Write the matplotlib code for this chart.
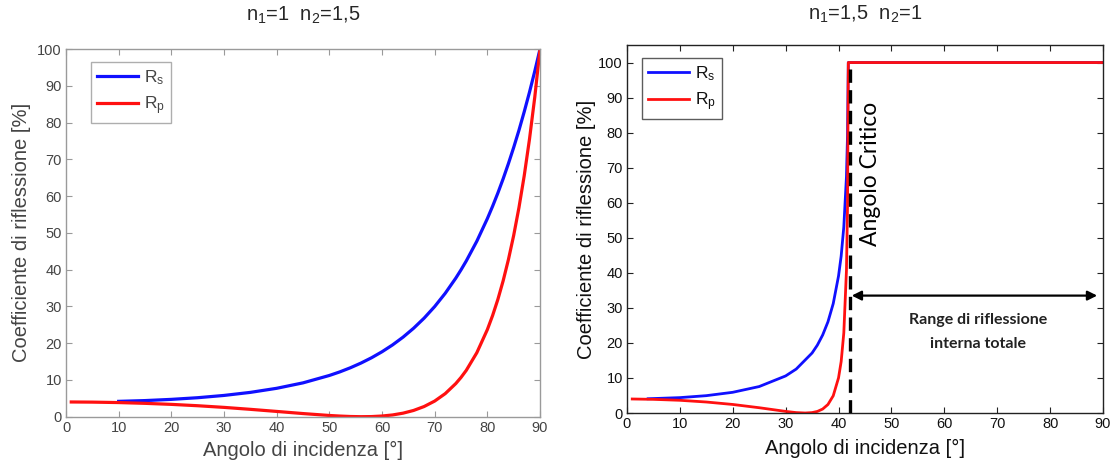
import matplotlib.pyplot as plt

plt.rcParams['font.family'] = ['Liberation Sans', 'DejaVu Sans']
plt.rcParams['mathtext.fontset'] = 'custom'
plt.rcParams['mathtext.rm'] = 'Liberation Sans'
plt.rcParams['mathtext.it'] = 'Liberation Sans:italic'

# n1=1 -> n2=1.5 (reflection in %)
ang_left = [1, 5, 10, 15, 20, 25, 30, 35, 40, 45, 50, 52, 54, 56, 58, 60, 62, 64, 66, 68,
            70, 72, 74, 75, 76, 78, 80, 81, 82, 83, 84, 85, 86, 87, 88, 89, 90]
rp_left = [4.00, 3.96, 3.84, 3.63, 3.35, 2.98, 2.53, 2.00, 1.43, 0.85, 0.33, 0.17, 0.05, 0.00,
           0.03, 0.18, 0.47, 0.96, 1.70, 2.77, 4.25, 6.27, 9.00, 10.68, 12.61, 17.40, 23.69,
           27.53, 31.92, 36.97, 42.74, 49.32, 56.87, 65.54, 75.49, 86.88, 100]
ang_s_left = [10, 15, 20, 25, 30, 35, 40, 45, 50, 52, 54, 56, 58, 60, 62, 64, 66, 68,
              70, 72, 74, 75, 76, 78, 80, 81, 82, 83, 84, 85, 86, 87, 88, 89, 90]
rs_left = [4.17, 4.38, 4.71, 5.16, 5.78, 6.61, 7.72, 9.20, 11.21, 12.19, 13.31, 14.58, 16.02,
           17.66, 19.52, 21.64, 24.06, 26.81, 29.96, 33.56, 37.67, 39.94, 42.37, 47.73, 53.87,
           57.25, 60.85, 64.71, 68.84, 73.23, 77.91, 82.94, 88.26, 93.95, 100]

# n1=1.5 -> n2=1
ang_s_right = [4, 10, 15, 20, 25, 30, 32, 35, 36, 37, 38, 39, 40, 40.5, 41, 41.5, 41.7, 41.8,
               41.85, 90]
rs_right = [4.07, 4.39, 4.95, 5.91, 7.55, 10.58, 12.54, 17.12, 19.37, 22.25, 26.01, 31.22,
            39.08, 44.78, 53.11, 67.42, 79.11, 93.2, 100, 100]
ang_p_right = [1, 5, 10, 15, 20, 25, 30, 32, 33.7, 35, 36, 37, 38, 39, 40, 40.5, 41, 41.5,
               41.7, 41.8, 41.85, 90]
rp_right = [4.00, 3.90, 3.63, 3.14, 2.44, 1.51, 0.46, 0.12, 0.00, 0.12, 0.45, 1.13, 2.43,
            4.92, 10.02, 14.69, 22.87, 40.69, 58.87, 85.4, 100, 100]

angolo_critico = 42.2
range_y = 33.5
range_end = 88.9

fig = plt.figure(figsize=(11.13, 4.65), dpi=100)
ax1 = fig.add_axes([0.0593, 0.1039, 0.4259, 0.7907])
ax2 = fig.add_axes([0.5633, 0.1118, 0.4277, 0.7914])


def style(ax, spine_col, text_col, ymax):
    ax.set_xlim(0, 90)
    ax.set_ylim(0, ymax)
    ax.set_xticks(range(0, 91, 10))
    ax.set_yticks(range(0, 101, 10))
    for s in ax.spines.values():
        s.set_color(spine_col)
        s.set_linewidth(1.0)
    ax.tick_params(direction='in', length=4, width=0.8, top=True, right=True,
                   color=spine_col, labelcolor=text_col, labelsize=10.5, pad=3)


style(ax1, '#9a9a9a', '#444444', 100)
style(ax2, '#222222', '#111111', 105)

ax1.plot(ang_s_left, rs_left, color='#1010ff', lw=2.3, label=r'R$_\mathrm{s}$')
ax1.plot(ang_left, rp_left, color='#ff1010', lw=2.3, label=r'R$_\mathrm{p}$')

ax2.plot(ang_s_right, rs_right, color='#1010ff', lw=2.0, label=r'R$_\mathrm{s}$')
ax2.plot(ang_p_right, rp_right, color='#ff1010', lw=2.0, label=r'R$_\mathrm{p}$')
ax2.plot([angolo_critico, angolo_critico], [0, 100], color='black', lw=2.4,
         linestyle=(0, (4, 2.2)), zorder=5)

ax2.text(46.0, 68.3, 'Angolo Critico', rotation=90, ha='center', va='center',
         fontsize=16.5, family=['Lato', 'DejaVu Sans'], color='black')
ax2.annotate('', xy=(range_end, range_y), xytext=(angolo_critico + 0.3, range_y),
             arrowprops=dict(arrowstyle='<|-|>', color='black', lw=1.6,
                             mutation_scale=14, shrinkA=0, shrinkB=0))
ax2.text(66.4, 26.6, 'Range di riflessione', ha='center', va='center', fontsize=11.5,
         fontweight='bold', family=['Lato', 'DejaVu Sans'], color='#222222')
ax2.text(66.4, 19.7, 'interna totale', ha='center', va='center', fontsize=11.5,
         fontweight='bold', family=['Lato', 'DejaVu Sans'], color='#222222')

for ax, edge, tcol, title, ty, anchor in [
        (ax1, '#9a9a9a', '#444444', r'n$_\mathrm{1}$=1  n$_\mathrm{2}$=1,5', 1.092, (0.052, 0.965)),
        (ax2, '#333333', '#111111', r'n$_\mathrm{1}$=1,5  n$_\mathrm{2}$=1', 1.082, (0.031, 0.965))]:
    leg = ax.legend(loc='upper left', bbox_to_anchor=anchor,
                    fontsize=12.5, frameon=True, fancybox=False, handlelength=2.4,
                    handletextpad=0.3, borderpad=0.35, labelspacing=0.45, borderaxespad=0)
    leg.get_frame().set_edgecolor(edge)
    leg.get_frame().set_linewidth(1.0)
    for t in leg.get_texts():
        t.set_color(tcol)
    ax.text(0.5, ty, title, transform=ax.transAxes, ha='center', va='center',
            fontsize=14.5, color='#262626')
    ax.set_xlabel('Angolo di incidenza [°]', fontsize=14.5, color=tcol)
    ax.set_ylabel('Coefficiente di riflessione [%]', fontsize=14.5, color=tcol)

ax1.xaxis.set_label_coords(0.5, -0.066)
ax1.yaxis.set_label_coords(-0.074, 0.5)
ax2.xaxis.set_label_coords(0.5, -0.071)
ax2.yaxis.set_label_coords(-0.065, 0.5)

fig.savefig('out.png', dpi=100)
